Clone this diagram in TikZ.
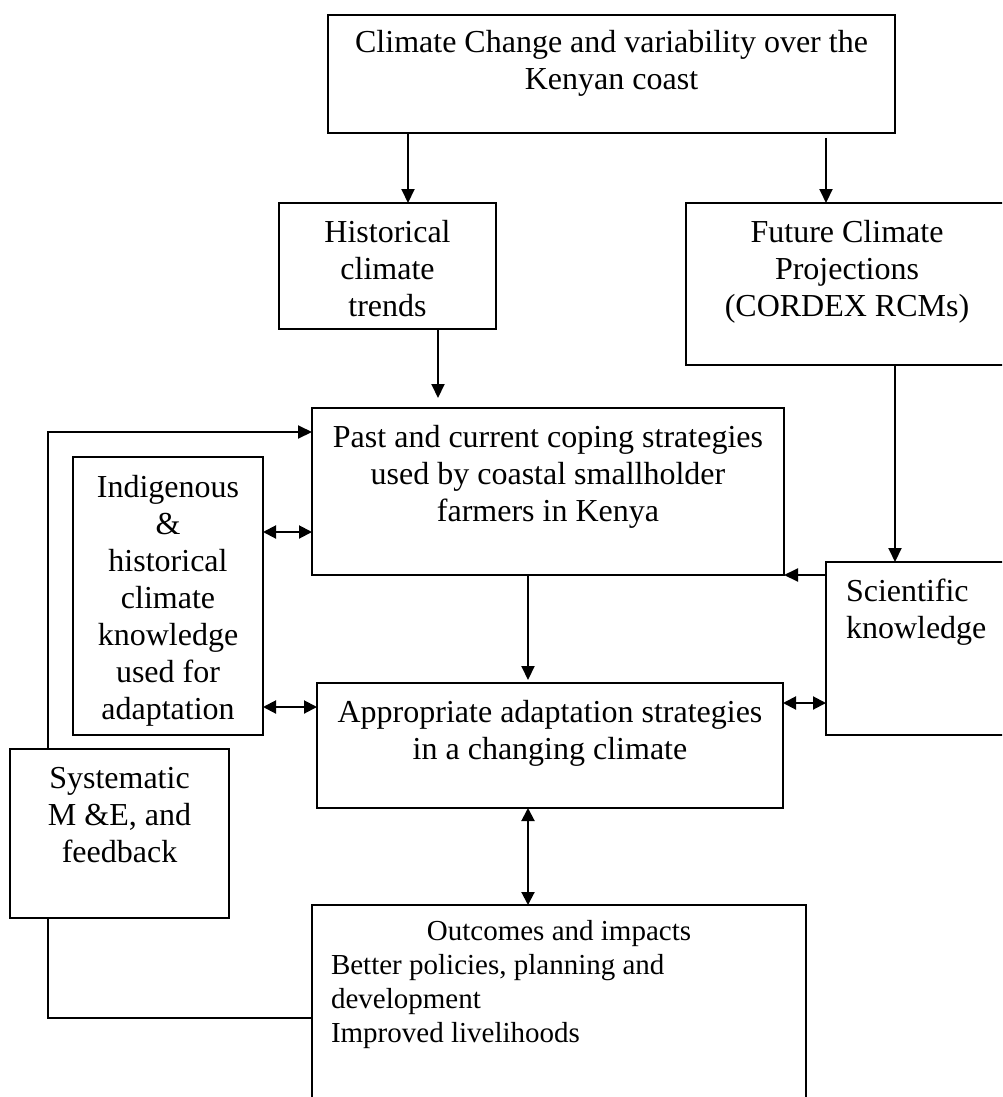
\documentclass[tikz,border=0pt]{standalone}
\usepackage{fontspec}
\setmainfont{Liberation Serif}
\usetikzlibrary{arrows.meta,calc}
\tikzset{
  box/.style={draw, line width=1.9pt, rectangle, anchor=north west, inner sep=0pt, outer sep=0pt},
  txt/.style={inner sep=0pt, outer sep=0pt, align=center, anchor=base, font=\fontsize{32}{37}\selectfont},
  txtl/.style={inner sep=0pt, outer sep=0pt, align=left, anchor=base west, font=\fontsize{32}{37}\selectfont},
  txtsm/.style={inner sep=0pt, outer sep=0pt, font=\fontsize{29}{34}\selectfont},
  arr/.style={line width=2pt, -{Triangle[length=14pt,width=13pt]}},
  darr/.style={line width=2pt, {Triangle[length=13pt,width=13pt]}-{Triangle[length=13pt,width=13pt]}},
  link/.style={line width=2pt}
}
\begin{document}
\begin{tikzpicture}[x=1pt,y=-1pt]
\useasboundingbox[fill=white] (0,0) rectangle (1002,1097);
\clip (0,0) rectangle (1002,1097);
% boxes
\node[box, minimum width=567pt, minimum height=118pt] (top) at (328,15) {};
\node[box, minimum width=217pt, minimum height=126pt] (hist) at (279,203) {};
\node[box, minimum width=330pt, minimum height=162pt] (fut) at (686,203) {};
\node[box, minimum width=472pt, minimum height=167pt] (cope) at (312,408) {};
\node[box, minimum width=190pt, minimum height=173pt] (sci) at (826,562) {};
\node[box, minimum width=190pt, minimum height=278pt] (indi) at (73,457) {};
\node[box, minimum width=466pt, minimum height=125pt] (appr) at (317,683) {};
\node[box, minimum width=219pt, minimum height=169pt] (sys) at (10,749) {};
\node[box, minimum width=494pt, minimum height=220pt] (out) at (312,905) {};
% texts (anchor base = baseline of the last line)
\node[txt] (topt) at (611.5,90) {Climate Change and variability over the\\Kenyan coast};
\node[txt] (histt) at (387.5,316) {Historical\\climate\\trends};
\node[txt] (futt) at (847,316) {Future Climate\\Projections\\(CORDEX RCMs)};
\node[txt] (copet) at (548,521) {Past and current coping strategies\\used by coastal smallholder\\farmers in Kenya};
\node[txt] (indit) at (168,719) {Indigenous\\\&\\historical\\climate\\knowledge\\used for\\adaptation};
\node[txtl] (scit) at (846,638) {Scientific\\knowledge};
\node[txt] (apprt) at (550,759) {Appropriate adaptation strategies\\in a changing climate};
\node[txt] (syst) at (119.5,862) {Systematic\\M \&E, and\\feedback};
\node[txtsm, anchor=base] (outt) at (559,940) {Outcomes and impacts};
\node[txtsm, anchor=base west, align=left] (outl) at (331,1042) {Better policies, planning and\\development\\Improved livelihoods};
% connectors
\draw[arr] ([xshift=80pt]top.south west) -- ([xshift=129pt]hist.north west);
\draw[arr] ([xshift=498pt,yshift=-5pt]top.south west) -- ([xshift=140pt]fut.north west);
\draw[arr] ([xshift=159pt]hist.south west) -- ([xshift=126pt,yshift=10pt]cope.north west);
\draw[arr] ([xshift=209pt]fut.south west) -- ([xshift=69pt]sci.north west);
\draw[arr] ([yshift=-13pt]sci.north west) -- (cope.south east);
\draw[arr] ([xshift=216pt]cope.south west) -- ([xshift=211pt,yshift=3pt]appr.north west);
\draw[darr] ([yshift=-75pt]indi.north east) -- ([yshift=-124pt]cope.north west);
\draw[darr] ([yshift=-250pt]indi.north east) -- ([yshift=-24pt]appr.north west);
\draw[darr] ([yshift=-20pt]appr.north east) -- ([yshift=-141pt]sci.north west);
\draw[darr] ([xshift=211pt]appr.south west) -- ([xshift=216pt]out.north west);
\draw[arr] ([xshift=38pt]sys.north west) |- ([yshift=-24pt]cope.north west);
\draw[link] ([xshift=38pt]sys.south west) |- ([yshift=-113pt]out.north west);
\end{tikzpicture}
\end{document}
